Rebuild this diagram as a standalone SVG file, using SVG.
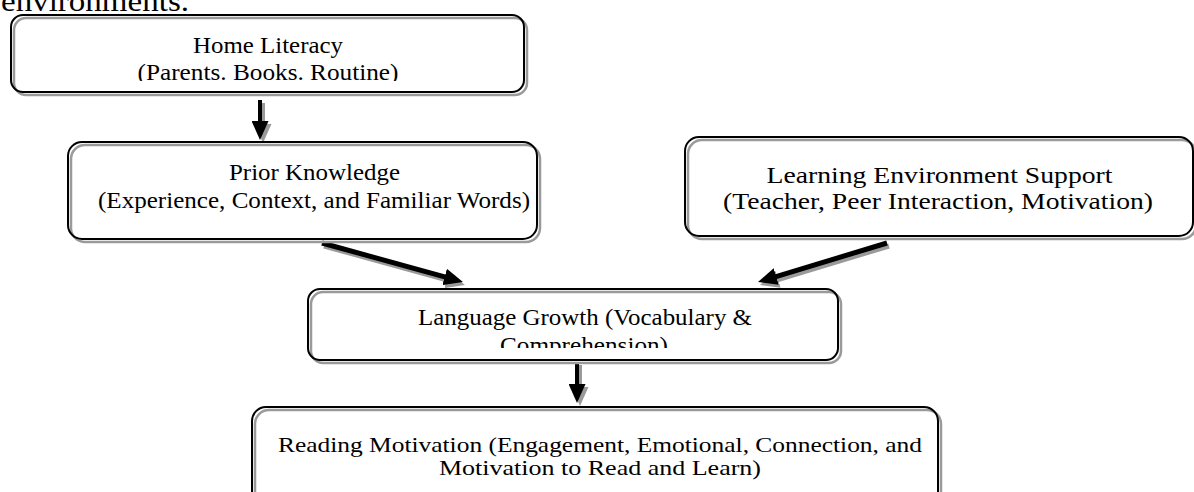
<svg xmlns="http://www.w3.org/2000/svg" width="1194" height="492" viewBox="0 0 1194 492">
<style>
.bg{fill:#fff;stroke:none}
.sh{fill:none;stroke:#9a9a9a;stroke-width:2.5}
.bx{fill:none;stroke:#000;stroke-width:2}
.t{font-family:"Liberation Serif","Times New Roman",serif;fill:#000;text-anchor:middle}
.s23{font-size:23px}
.s24{font-size:24px}
.s21{font-size:21px}
.ln{fill:none;stroke:#000;stroke-width:5}
.lns{fill:none;stroke:#9a9a9a;stroke-width:5}
.lv{fill:none;stroke:#000;stroke-width:4}
.lvs{fill:none;stroke:#9a9a9a;stroke-width:4}
</style>
<defs>
<marker id="ah" markerUnits="userSpaceOnUse" markerWidth="19" markerHeight="17" refX="1" refY="8.5" orient="auto"><path d="M0,0 L19,8.5 L0,17 z" fill="#000"/></marker>
<marker id="ahs" markerUnits="userSpaceOnUse" markerWidth="19" markerHeight="17" refX="1" refY="8.5" orient="auto"><path d="M0,0 L19,8.5 L0,17 z" fill="#9a9a9a"/></marker>
<clipPath id="c1"><rect x="0" y="15" width="600" height="66"/></clipPath>
<clipPath id="c4"><rect x="300" y="289" width="560" height="59"/></clipPath>
</defs>
<rect width="1194" height="492" fill="#fff"/>
<text class="t" x="95" y="11" style="font-size:30px" textLength="188" lengthAdjust="spacingAndGlyphs">environments.</text>

<g id="connectors">
<path class="lvs" d="M263,103 L263,125" marker-end="url(#ahs)"/>
<path class="lv" d="M260,100 L260,122" marker-end="url(#ah)"/>
<path class="lns" d="M324,246 L447.6,280.2" marker-end="url(#ahs)"/>
<path class="ln" d="M322,243 L445.6,277.2" marker-end="url(#ah)"/>
<path class="lns" d="M889,246 L777.2,279.8" marker-end="url(#ahs)"/>
<path class="ln" d="M887,243 L775.2,276.8" marker-end="url(#ah)"/>
<path class="lvs" d="M580,365 L580,388" marker-end="url(#ahs)"/>
<path class="lv" d="M577,362 L577,385" marker-end="url(#ah)"/>
</g>

<g id="home-literacy">
<rect class="bg" x="11" y="15" width="513" height="77" rx="12"/>
<rect class="sh" x="14" y="18" width="513" height="77" rx="12"/>
<rect class="bx" x="11" y="15" width="513" height="77" rx="12"/>
<g clip-path="url(#c1)">
<text class="t s23" x="268" y="53" textLength="150" lengthAdjust="spacingAndGlyphs">Home Literacy</text>
<text class="t s23" x="268" y="80" textLength="261" lengthAdjust="spacingAndGlyphs">(Parents. Books. Routine)</text>
</g>
</g>

<g id="prior-knowledge">
<rect class="bg" x="68" y="142" width="469" height="97" rx="14"/>
<rect class="sh" x="71" y="145" width="469" height="97" rx="14"/>
<rect class="bx" x="68" y="142" width="469" height="97" rx="14"/>
<text class="t s23" x="314.5" y="180" textLength="171" lengthAdjust="spacingAndGlyphs">Prior Knowledge</text>
<text class="t s23" x="314" y="208" textLength="432" lengthAdjust="spacingAndGlyphs">(Experience, Context, and Familiar Words)</text>
</g>

<g id="learning-environment">
<rect class="bg" x="685" y="137" width="508" height="99" rx="14"/>
<rect class="sh" x="688" y="140" width="508" height="99" rx="14"/>
<rect class="bx" x="685" y="137" width="508" height="99" rx="14"/>
<text class="t s24" x="939.5" y="183" textLength="346" lengthAdjust="spacingAndGlyphs">Learning Environment Support</text>
<text class="t s24" x="938" y="209" textLength="430" lengthAdjust="spacingAndGlyphs">(Teacher, Peer Interaction, Motivation)</text>
</g>

<g id="language-growth">
<rect class="bg" x="308" y="289" width="530" height="71" rx="12"/>
<rect class="sh" x="311" y="292" width="530" height="71" rx="12"/>
<rect class="bx" x="308" y="289" width="530" height="71" rx="12"/>
<g clip-path="url(#c4)">
<text class="t s23" x="585" y="325" textLength="334" lengthAdjust="spacingAndGlyphs">Language Growth (Vocabulary &amp;</text>
<text class="t s23" x="584" y="353" textLength="168" lengthAdjust="spacingAndGlyphs">Comprehension)</text>
</g>
</g>

<g id="reading-motivation">
<rect class="bg" x="252" y="407" width="686" height="100" rx="14"/>
<rect class="sh" x="255" y="410" width="686" height="100" rx="14"/>
<rect class="bx" x="252" y="407" width="686" height="100" rx="14"/>
<text class="t s21" x="600" y="452" textLength="644" lengthAdjust="spacingAndGlyphs">Reading Motivation (Engagement, Emotional, Connection, and</text>
<text class="t s21" x="600" y="475" textLength="322" lengthAdjust="spacingAndGlyphs">Motivation to Read and Learn)</text>
</g>
</svg>
